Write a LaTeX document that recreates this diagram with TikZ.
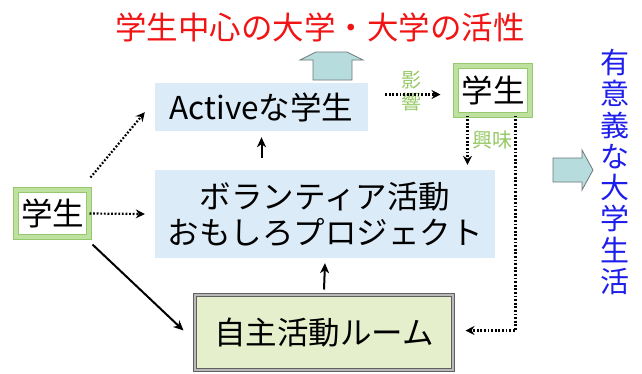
\documentclass[tikz,border=0pt]{standalone}
\usepackage{fontspec}
\setmainfont{Noto Sans CJK JP}
\usetikzlibrary{arrows.meta,calc}
\definecolor{boxblue}{RGB}{220,235,248}
\definecolor{roomfill}{RGB}{230,239,204}
\definecolor{gline}{RGB}{150,200,110}
\definecolor{gband}{RGB}{190,225,160}
\definecolor{lblgreen}{RGB}{150,200,100}
\definecolor{titlered}{RGB}{240,20,20}
\definecolor{vblue}{RGB}{30,30,235}
\definecolor{arrfill}{RGB}{182,220,222}
\definecolor{arrline}{RGB}{110,120,120}
\begin{document}
\begin{tikzpicture}[x=1pt,y=-1pt,
  bigfont/.style={font=\fontsize{31.5}{36}\selectfont},
  bluebox/.style={fill=boxblue, inner sep=0pt, text=black, bigfont},
  greenbox/.style={draw=gline, line width=1pt, double=gband, double distance=4pt, fill=white, inner sep=0pt, text=black, bigfont},
  roombox/.style={draw=gray!75!black, line width=1pt, double=gray!55, double distance=2pt, fill=roomfill, inner sep=0pt, text=black, bigfont},
  lbl/.style={text=lblgreen, inner sep=0pt, font=\fontsize{20}{22}\selectfont, align=center},
  dotarrow/.style={line width=2.2pt, dash pattern=on 1.8pt off 1.8pt, -{Stealth[length=9pt,width=9pt,inset=3pt]}},
  solidarrow/.style={line width=2pt, -{Stealth[length=10pt,width=9pt,inset=3pt]}},
  blockarrow/.style={fill=arrfill, draw=arrline, line width=0.8pt}
]
\useasboundingbox (0,0) rectangle (642,373);

% title
\node[text=titlered, inner sep=0pt, bigfont] (title) at (320,27) {学生中心の大学・大学の活性};

% boxes
\node[bluebox, minimum width=213pt, minimum height=48pt] (act) at (261.5,107) {Activeな学生};
\node[greenbox, minimum width=74pt, minimum height=49pt] (stuR) at (493,90.5) {学生};
\node[greenbox, minimum width=73pt, minimum height=47pt] (stuL) at (52.5,213.5) {学生};
\node[bluebox, minimum width=340pt, minimum height=88pt, align=center] (vol) at (325,214) {ボランティア活動\\おもしろプロジェクト};
\node[roombox, minimum width=258pt, minimum height=75pt] (room) at (324,332.5) {自主活動ルーム};

% vertical blue text
\node[text=vblue, inner sep=0pt, align=center, font=\fontsize{29}{31.25}\selectfont] (goal) at (615,172) {有\\意\\義\\な\\大\\学\\生\\活};

% labels
\node[lbl] (eikyo) at (411,91) {影\\響};
\node[lbl] (kyomi) at (492,140) {興味};

% block arrows
\draw[blockarrow] (313,80) -- (313,60) -- (300,60) -- (316,52) -- (347,52) -- (363,60) -- (352,60) -- (352,80) -- cycle;
\draw[blockarrow] (553,158) -- (582,158) -- (582,150) -- (593,170) -- (582,190) -- (582,182) -- (553,182) -- cycle;

% connectors
\draw[dotarrow] ([xshift=17pt,yshift=-4pt]act.east |- stuR.west) -- ([xshift=-15pt,yshift=-4pt]stuR.west);
\draw[dotarrow] (stuL.east) -- ([xshift=-10pt]vol.west);
\draw[dotarrow] ([shift={(1pt,12pt)}]stuL.north east) -- ([shift={(-10pt,19pt)}]act.south west);
\draw[solidarrow] ([shift={(3pt,-7pt)}]stuL.south east) -- ([shift={(-11pt,2pt)}]room.west);
\draw[solidarrow] ([yshift=12pt]vol.north -| act.south) -- ([yshift=-6pt]act.south);
\draw[solidarrow] ([yshift=5pt]room.north) -- ([yshift=-5pt]vol.south);
\draw[dotarrow] ([xshift=12pt]stuR.south west) -- ([xshift=12pt,yshift=5pt]stuR.south west |- vol.north);
\draw[dotarrow] ([xshift=-15pt]stuR.south east) |- ([xshift=12pt,yshift=2pt]room.east);
\end{tikzpicture}
\end{document}
